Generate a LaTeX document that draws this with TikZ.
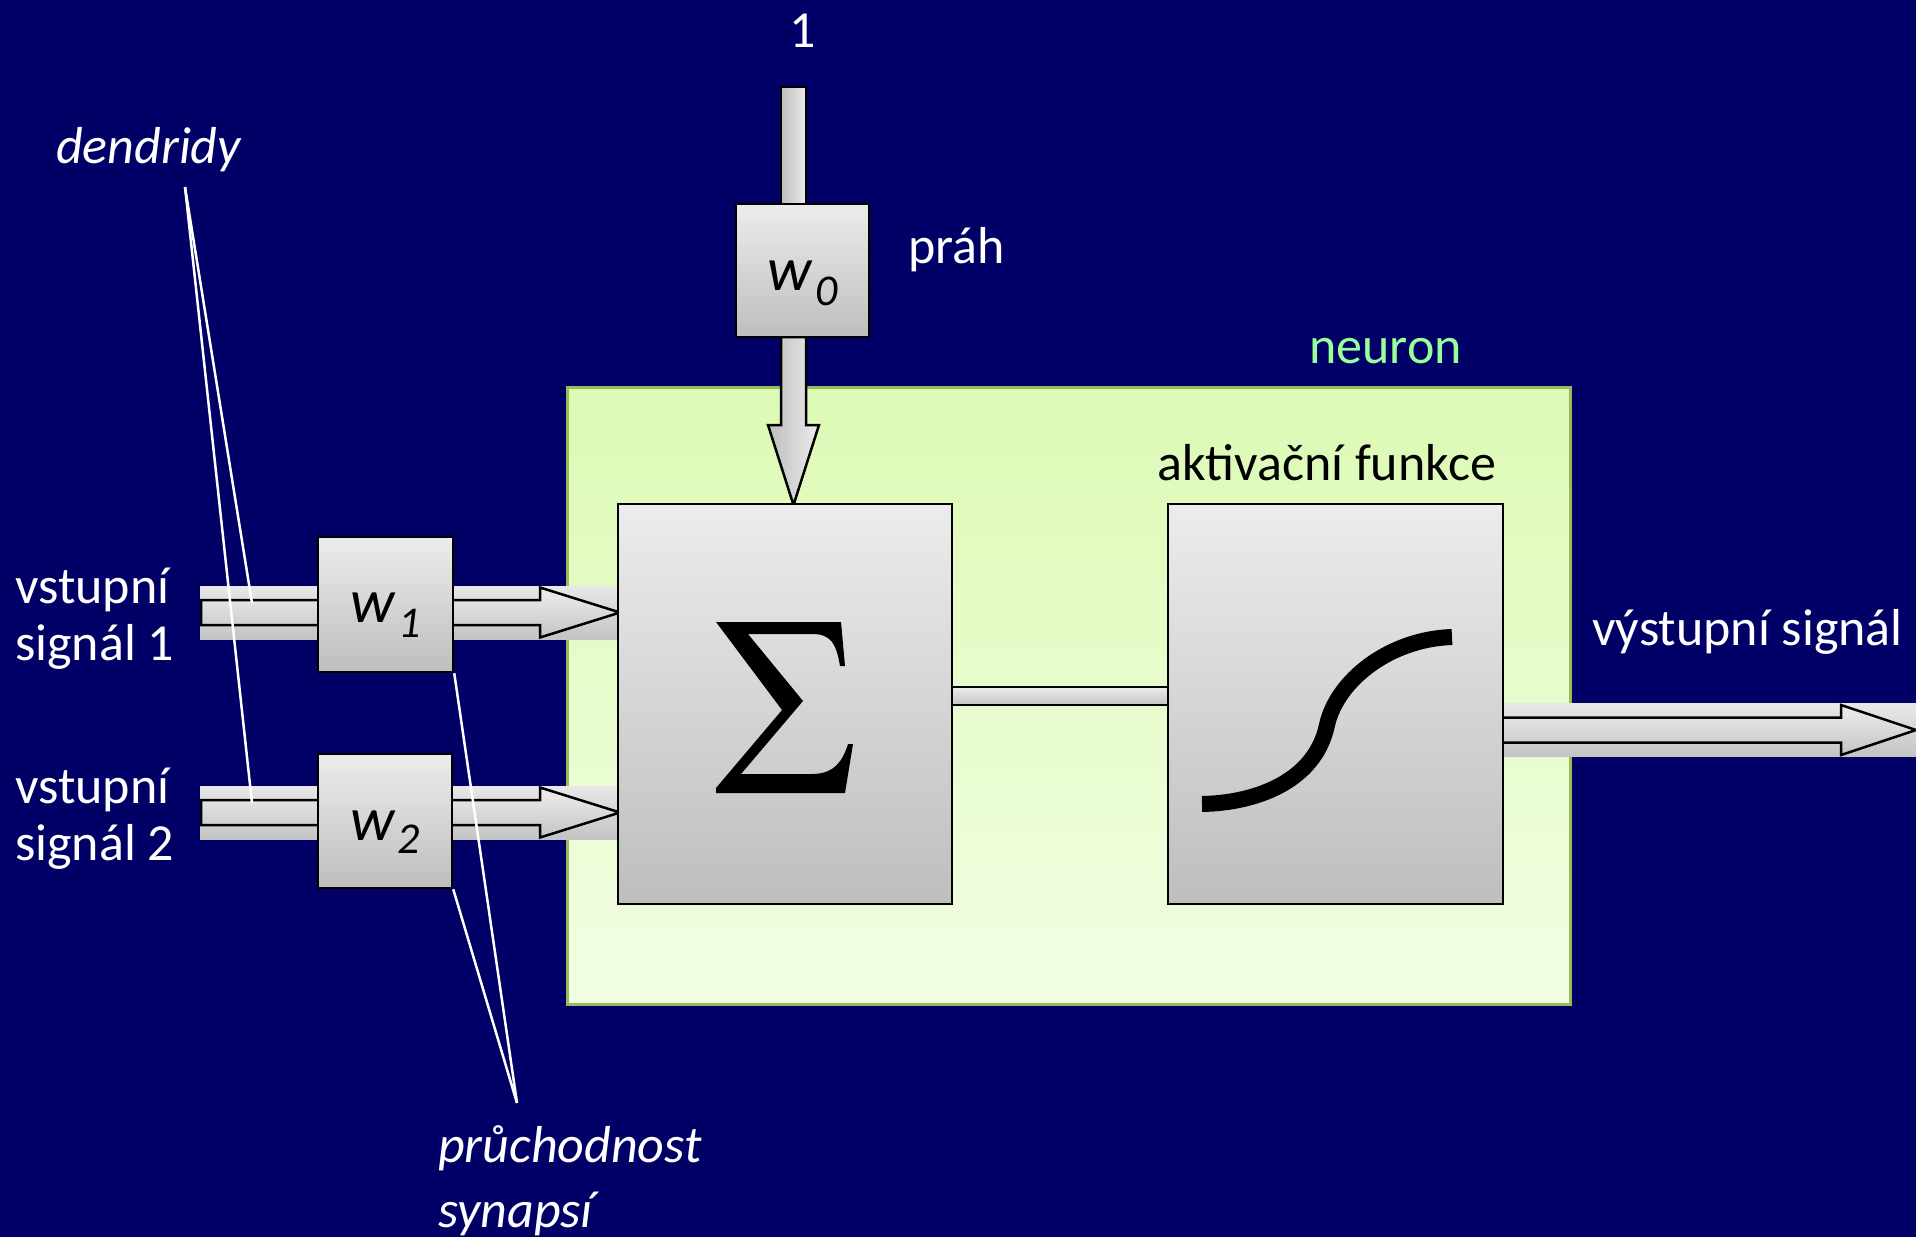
\documentclass[tikz,border=0pt]{standalone}
\usepackage{fontspec}
\setmainfont{Carlito}
\usepackage{graphicx}
\usetikzlibrary{calc}
\definecolor{bgnavy}{RGB}{0,0,102}
\definecolor{nfilltop}{RGB}{220,250,180}
\definecolor{nfillbot}{RGB}{242,254,228}
\definecolor{nborder}{RGB}{155,187,89}
\definecolor{neurontxt}{RGB}{153,255,153}
\definecolor{boxtop}{RGB}{236,236,236}
\definecolor{boxbot}{RGB}{190,190,190}
\definecolor{arrtop}{RGB}{238,238,238}
\definecolor{arrbot}{RGB}{196,196,196}
\definecolor{bandtop}{RGB}{232,232,232}
\definecolor{bandbot}{RGB}{196,196,196}
\definecolor{vleft}{RGB}{190,190,190}
\definecolor{vright}{RGB}{236,236,236}
\newcommand{\bigtxt}{\fontsize{52}{57}\selectfont}
\newcommand{\wtxt}{\fontsize{62}{66}\selectfont\itshape}
\newcommand{\subtxt}{\fontsize{44}{48}\selectfont\itshape}
\tikzset{
  nbody/.style={draw=nborder, line width=3pt, top color=nfilltop, bottom color=nfillbot, inner sep=0pt},
  gbox/.style={draw=black, line width=2.5pt, top color=boxtop, bottom color=boxbot, inner sep=0pt},
  arrowshape/.style={draw=black, line width=2.5pt, top color=arrtop, bottom color=arrbot},
  bandfill/.style={top color=bandtop, bottom color=bandbot},
  vbar/.style={draw=black, line width=2.5pt, left color=vleft, right color=vright},
  hbar/.style={draw=black, line width=2.5pt, top color=boxtop, bottom color=arrbot},
  lbl/.style={text=white, font=\bigtxt, inner sep=0pt},
  ilbl/.style={text=white, font=\bigtxt\itshape, inner sep=0pt},
  wlab/.style={text=black, font=\wtxt, inner sep=0pt, anchor=base},
  pointer/.style={draw=white, line width=2.5pt}
}
% horizontal block arrow: start x, centre y, head start x, tip x
\newcommand{\hbarrow}[4]{%
  \path[bandfill] ({#1-1},{#2-26.5}) rectangle (#4,{#2+26.5});
  \path[arrowshape] (#1,{#2-12.5}) -- (#3,{#2-12.5}) -- (#3,{#2-25}) -- (#4,#2)
     -- (#3,{#2+25}) -- (#3,{#2+12.5}) -- (#1,{#2+12.5}) -- cycle;
}
\begin{document}
\begin{tikzpicture}[x=1pt,y=-1pt]
\useasboundingbox (0,0) rectangle (1916,1237);
\fill[bgnavy] (0,0) rectangle (1916,1237);

% neuron body
\node[nbody, minimum width=1003pt, minimum height=617pt] (neuron) at (1068.5,695.5) {};
\node[lbl, text=neurontxt, anchor=base west] (neuronlbl) at (1309,363) {neuron};

% block arrows
\hbarrow{201}{612.5}{540}{620}
\hbarrow{201}{812.5}{540}{620}
\hbarrow{1502}{730}{1841}{1916}

% bias input
\path[vbar] (781,87) rectangle (806,204);
\path[vbar] (781,337) -- (806,337) -- (806,425) -- (819,425) -- (793.5,505)
   -- (768,425) -- (781,425) -- cycle;

% link between sum and activation
\path[hbar] (952,687) rectangle (1169,705);

% boxes
\node[gbox, minimum width=133pt, minimum height=133pt] (w0) at (802.5,270.5) {};
\node[gbox, minimum width=135pt, minimum height=135pt] (w1) at (385.5,604.5) {};
\node[gbox, minimum width=134pt, minimum height=134pt] (w2) at (385,821) {};
\node[gbox, minimum width=334pt, minimum height=400pt] (sum) at (785,704) {};
\node[gbox, minimum width=335pt, minimum height=400pt] (act) at (1335.5,704) {};

% weights
\node[wlab] (w0t) at ([yshift=-19.5pt]w0.center) {w\kern3pt\raisebox{-15pt}{\subtxt 0}};
\node[wlab] (w1t) at ([yshift=-17.5pt]w1.center) {w\kern3pt\raisebox{-15pt}{\subtxt 1}};
\node[wlab] (w2t) at ([yshift=-19pt]w2.center) {w\kern3pt\raisebox{-13pt}{\subtxt 2}};

% sigma (drawn glyph)
\fill[black] (716,622) -- (841,622) -- (845,666) -- (840,666)
   .. controls (836,642) and (830,634) .. (812,634) -- (748,634) -- (803,701)
   -- (741,774) -- (812,774) .. controls (835,774) and (843,760) .. (848,744)
   -- (853,744) -- (845,793) -- (716,793) -- (716,788) -- (782,710) -- cycle;
\coordinate (sigma) at (784.5,707.5);

% sigmoid
\draw[line width=16pt] (1202,804) .. controls (1255,803) and (1315,782) .. (1327,725)
   .. controls (1337,680) and (1390,639) .. (1452,637);

% texts
\node[lbl, anchor=base] (one) at (803,47) {1};
\node[lbl, anchor=base west] (prah) at (908,263) {práh};
\node[lbl, text=black, anchor=base west] (aktlbl) at (1157,480) {aktivační funkce};
\node[lbl, anchor=base west] (outlbl) at (1592,645) {výstupní signál};
\node[lbl, anchor=base west] (in1a) at (15,603) {vstupní};
\node[lbl, anchor=base west] (in1b) at (15,660) {signál 1};
\node[lbl, anchor=base west] (in2a) at (15,803) {vstupní};
\node[lbl, anchor=base west] (in2b) at (15,860) {signál 2};
\node[ilbl, anchor=base west] (dend) at (56,163) {dendridy};
\node[ilbl, anchor=base west] (syna) at (438,1162) {průchodnost};
\node[ilbl, anchor=base west] (synb) at (438,1227) {synapsí};

% pointer lines
\coordinate (dtip) at (185,187);
\coordinate (d1) at (252,603);
\coordinate (d2) at (252,803);
\coordinate (stip) at (517,1103);
\draw[pointer] (dtip) -- (d1);
\draw[pointer] (dtip) -- (d2);
\draw[pointer] (w1.south east) -- (stip);
\draw[pointer] (w2.south east) -- (stip);
\end{tikzpicture}
\end{document}
